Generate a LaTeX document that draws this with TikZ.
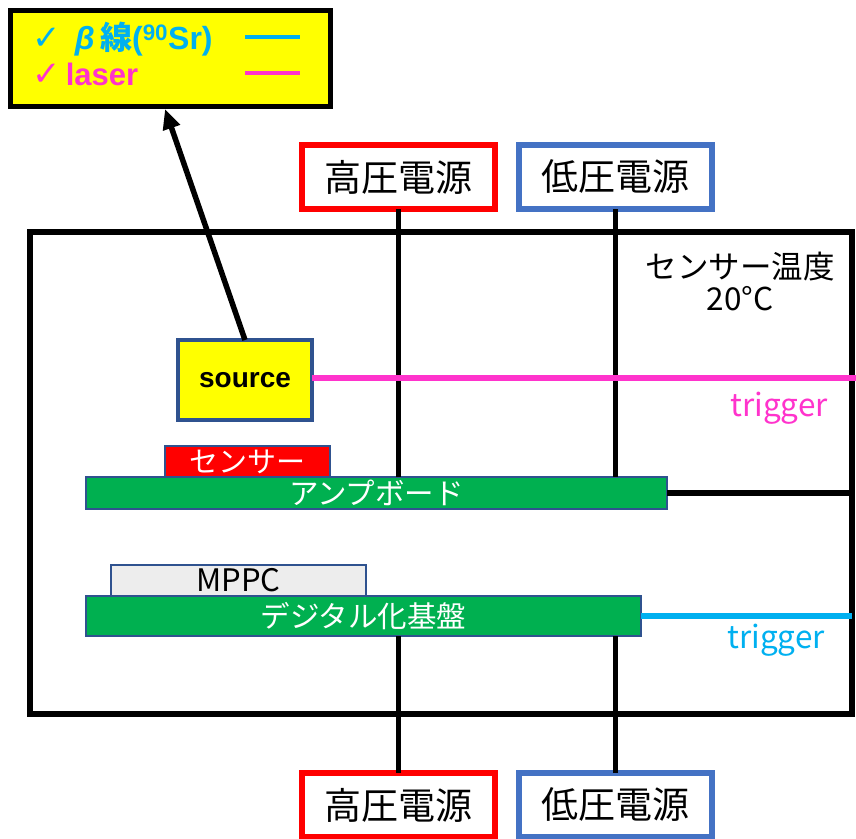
\documentclass[tikz,border=0pt]{standalone}
\usepackage{fontspec}
\setmainfont{Liberation Sans}
\newfontfamily\jp{Noto Sans CJK JP}
\newfontfamily\dv{DejaVu Sans}
\usetikzlibrary{arrows.meta}
\definecolor{cy}{HTML}{00B0F0}
\definecolor{mg}{HTML}{FF33CC}
\definecolor{gr}{HTML}{00B050}
\definecolor{bd}{HTML}{2F528F}
\definecolor{bl}{HTML}{4472C4}
\definecolor{gy}{HTML}{EDEDED}
\definecolor{yl}{HTML}{FFFF00}
\begin{document}
\begin{tikzpicture}[x=1pt,y=-1pt,
  box/.style={draw, inner sep=0pt, outer sep=0pt, anchor=north west},
  psu/.style={box, line width=5.5pt, fill=white, minimum width=193pt, minimum height=64pt, font=\jp\fontsize{37}{40}\selectfont},
  board/.style={box, draw=bd, line width=2.5pt, fill=gr, text=white, font=\jp\fontsize{29.5}{30}\selectfont},
  wire/.style={line width=5.5pt},
  lbl/.style={inner sep=0pt, font=\jp\fontsize{31.5}{32}\selectfont}]
\useasboundingbox (0,0) rectangle (856,838);
% frame
\node[box, line width=6pt, minimum width=822pt, minimum height=482pt] (frame) at (30,232) {};
% power supplies
\node[psu, draw=red] (hvt) at (302,145) {高圧電源};
\node[psu, draw=bl] (lvt) at (519,145) {低圧電源};
\node[psu, draw=red] (hvb) at (302,773) {高圧電源};
\node[psu, draw=bl] (lvb) at (519,773) {低圧電源};
% boards
\node[box, draw=bd, line width=2.5pt, fill=red, text=white, minimum width=165pt, minimum height=31pt, font=\jp\fontsize{29}{30}\selectfont] (sen) at (165,446) {センサー};
\node[board, minimum width=581pt, minimum height=32pt] (amp) at (86,477) {アンプボード};
\node[box, draw=bd, line width=2.5pt, fill=gy, minimum width=255pt, minimum height=31pt, font=\jp\fontsize{31}{30}\selectfont] (mppc) at (111,565) {MPPC};
\node[board, minimum width=555pt, minimum height=40pt] (dig) at (86,596) {デジタル化基盤};
% wires
\draw[wire] (hvt.south) -- (hvt.south |- amp.north);
\draw[wire] (lvt.south) -- (lvt.south |- amp.north);
\draw[wire] (hvb.north) -- (hvb.north |- dig.south);
\draw[wire] (lvb.north) -- (lvb.north |- dig.south);
\draw[wire] (amp.east) -- (amp.east -| frame.east);
\draw[wire, cy] (dig.east) -- (dig.east -| frame.east);
% source
\node[box, draw=bd, line width=3.5pt, fill=yl, minimum width=134pt, minimum height=80pt, font=\bfseries\fontsize{28}{30}\selectfont] (src) at (178,340) {source};
\coordinate (mgend) at (856,378);
\draw[wire, mg] (src.east |- mgend) -- (mgend);
% legend
\node[box, line width=5pt, fill=yl, minimum width=320pt, minimum height=96pt] (leg) at (10,10) {};
\draw[wire, -{Triangle[length=20pt,width=17pt]}] ([xshift=67pt]src.north west) -- ([xshift=155pt,yshift=-3pt]leg.south west);
\node[anchor=west, inner sep=0pt, text=cy, font=\bfseries\fontsize{32}{34}\selectfont] (l1) at (32,39) {{\dv\fontsize{34}{36}\selectfont ✓}\, \textit{β}\,{\jp 線}(\textsuperscript{90}Sr)};
\node[anchor=west, inner sep=0pt, text=mg, font=\bfseries\fontsize{31}{34}\selectfont] (l2) at (32,74) {{\dv\fontsize{34}{36}\selectfont ✓}\,laser};
\coordinate (c1a) at (245,37); \coordinate (c1b) at (300,37);
\coordinate (c2a) at (245,73); \coordinate (c2b) at (300,73);
\draw[line width=4.5pt, cy] (c1a) -- (c1b);
\draw[line width=4.5pt, mg] (c2a) -- (c2b);
% labels
\node[lbl, align=center] (temp) at (740,281) {センサー温度\\20°C};
\node[lbl, text=mg] (tr1) at (779,408) {trigger};
\node[lbl, text=cy] (tr2) at (776,640) {trigger};
\end{tikzpicture}
\end{document}
